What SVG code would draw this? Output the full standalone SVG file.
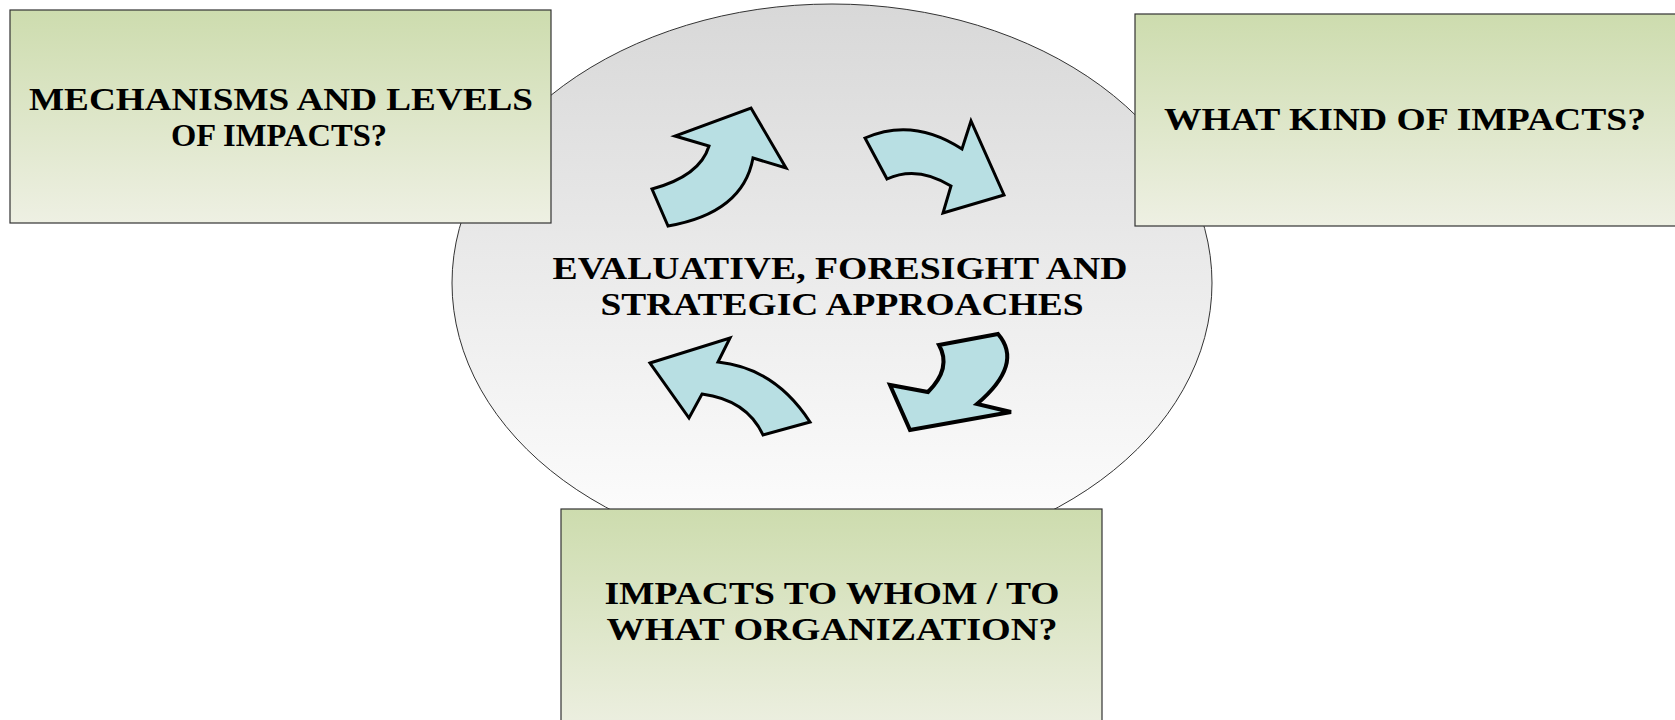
<svg xmlns="http://www.w3.org/2000/svg" width="1675" height="720" viewBox="0 0 1675 720">
  <defs>
    <linearGradient id="gBox" x1="0" y1="0" x2="0" y2="1">
      <stop offset="0" stop-color="#cddcae"/>
      <stop offset="1" stop-color="#eef0e3"/>
    </linearGradient>
    <linearGradient id="gEll" x1="0" y1="0" x2="0" y2="1">
      <stop offset="0" stop-color="#d8d8d8"/>
      <stop offset="1" stop-color="#ffffff"/>
    </linearGradient>
  </defs>
  <style>
    .box { fill: url(#gBox); stroke: #333333; stroke-width: 1.2; }
    .ell { fill: url(#gEll); stroke: #333333; stroke-width: 1; }
    .lbl { font-family: "Liberation Serif", "Times New Roman", serif; font-weight: bold; font-size: 32px; fill: #000000; text-anchor: middle; }
    .arw { fill: #b8dfe3; stroke: #000000; stroke-width: 3; stroke-linejoin: miter; }
  </style>
  <rect width="1675" height="720" fill="#ffffff"/>

  <g id="node-center">
    <ellipse class="ell" cx="832" cy="283" rx="380" ry="279"/>
    <text class="lbl" x="840" y="279" textLength="575" lengthAdjust="spacingAndGlyphs">EVALUATIVE, FORESIGHT AND</text>
    <text class="lbl" x="842" y="315" textLength="483" lengthAdjust="spacingAndGlyphs">STRATEGIC APPROACHES</text>
  </g>

  <g id="cycle-arrows">
    <path class="arw" d="M 668,226 L 652,189 Q 700,176 709,146 L 675,136 L 751,108 L 786,168 L 753,158 Q 743,213 668,226 Z"/>
    <path class="arw" d="M 865,138 Q 913,117 962,149 L 971,121 L 1004,195 L 943,213 L 951,186 Q 917,165 887,179 Z"/>
    <path class="arw" d="M 650,363 L 730,338 L 718,362 Q 775,368 810,422 L 763,435 Q 747,400 702,394 L 689,418 Z"/>
    <path class="arw" style="stroke-width:4" d="M 998,334 L 939,345 Q 952,368 928,392 L 890,385 L 910,430 L 1011,412 L 977,404 Q 1024,364 998,334 Z"/>
  </g>

  <g id="node-left">
    <rect class="box" x="10" y="10" width="541" height="213"/>
    <text class="lbl" x="281" y="110" textLength="504" lengthAdjust="spacingAndGlyphs">MECHANISMS AND LEVELS</text>
    <text class="lbl" x="279" y="146" textLength="216" lengthAdjust="spacingAndGlyphs">OF IMPACTS?</text>
  </g>

  <g id="node-right">
    <rect class="box" x="1135" y="14" width="560" height="212"/>
    <text class="lbl" x="1405" y="130" textLength="482" lengthAdjust="spacingAndGlyphs">WHAT KIND OF IMPACTS?</text>
  </g>

  <g id="node-bottom">
    <rect class="box" x="561" y="509" width="541" height="230"/>
    <text class="lbl" x="832" y="604" textLength="455" lengthAdjust="spacingAndGlyphs">IMPACTS TO WHOM / TO</text>
    <text class="lbl" x="832" y="640" textLength="451" lengthAdjust="spacingAndGlyphs">WHAT ORGANIZATION?</text>
  </g>
</svg>
